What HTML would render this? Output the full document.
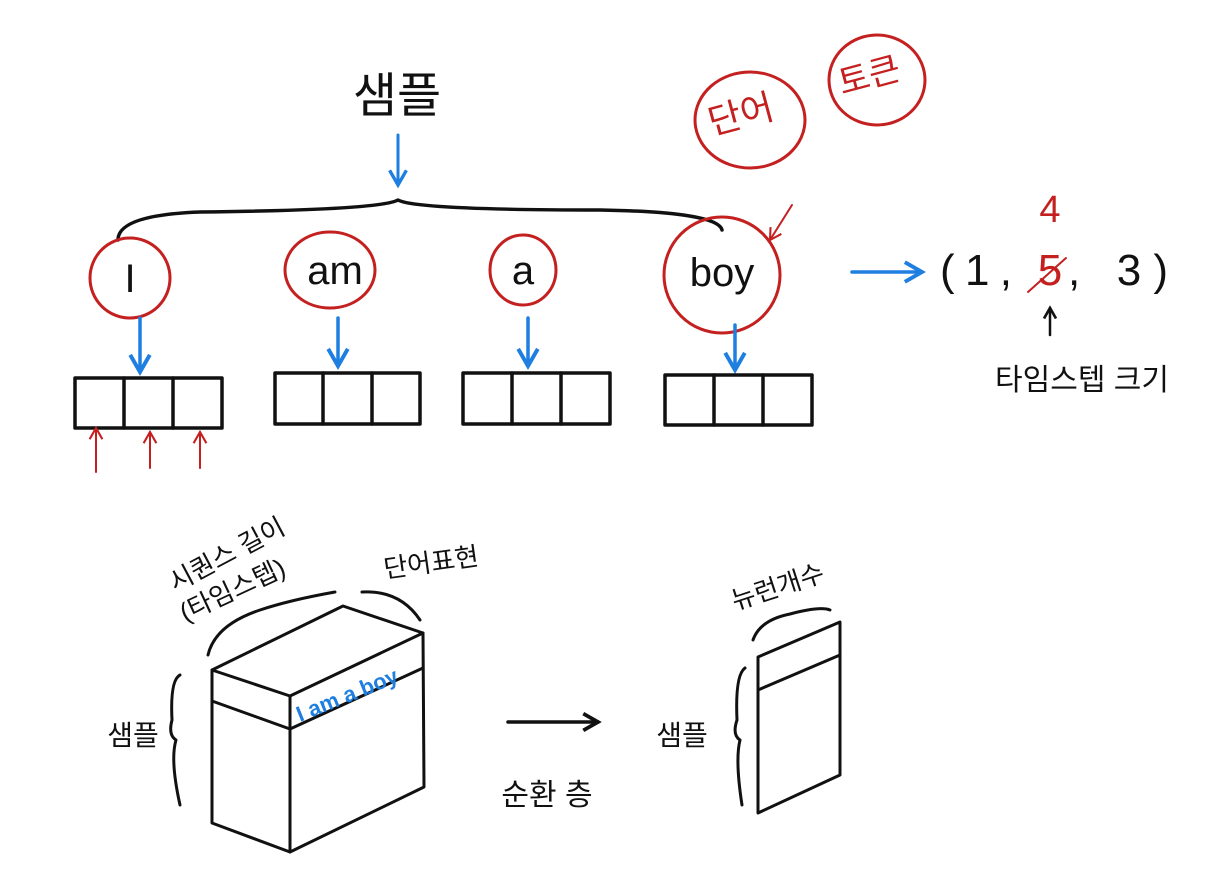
<!DOCTYPE html>
<html><head><meta charset="utf-8"><style>
html,body{margin:0;padding:0;background:#fff;}
svg{display:block;}
text{font-family:"Liberation Sans","Noto Sans CJK KR","NanumGothic",sans-serif;}
</style></head><body>
<svg width="1224" height="878" viewBox="0 0 1224 878" xmlns="http://www.w3.org/2000/svg">
<defs>
<marker id="ab" viewBox="0 0 10 10" refX="8" refY="5" markerWidth="7" markerHeight="7" orient="auto"><path d="M1,1 L8,5 L1,9" fill="none" stroke="#1e7fe0" stroke-width="1.6"/></marker>
<marker id="ar" viewBox="0 0 10 10" refX="8" refY="5" markerWidth="8" markerHeight="8" orient="auto"><path d="M1,1 L8,5 L1,9" fill="none" stroke="#c42020" stroke-width="1.3"/></marker>
<marker id="ak" viewBox="0 0 10 10" refX="8" refY="5" markerWidth="6" markerHeight="6" orient="auto"><path d="M1,1 L8,5 L1,9" fill="none" stroke="#111" stroke-width="1.8"/></marker>
</defs>
<g fill="none" stroke-linecap="round" stroke-linejoin="round">
<line x1="398" y1="135" x2="398" y2="185" stroke="#1e7fe0" stroke-width="3" marker-end="url(#ab)"/>
<path d="M118,240 Q118,215 200,212 Q380,210 398,200 Q416,210 600,210 Q718,212 722,230" stroke="#111" stroke-width="3.5"/>
<g stroke="#c42020" stroke-width="3">
<circle cx="130" cy="278" r="40"/>
<ellipse cx="330" cy="270" rx="45" ry="38"/>
<ellipse cx="523" cy="270" rx="33" ry="35"/>
<circle cx="722" cy="275" r="58"/>
<ellipse cx="750" cy="120" rx="55" ry="48"/>
<ellipse cx="877" cy="80" rx="48" ry="45"/>
</g>
<line x1="792" y1="205" x2="770" y2="240" stroke="#c42020" stroke-width="2" marker-end="url(#ar)"/>
<g stroke="#1e7fe0" stroke-width="3.5">
<line x1="140" y1="318" x2="140" y2="372" marker-end="url(#ab)"/>
<line x1="338" y1="318" x2="338" y2="366" marker-end="url(#ab)"/>
<line x1="528" y1="318" x2="528" y2="366" marker-end="url(#ab)"/>
<line x1="735" y1="325" x2="735" y2="370" marker-end="url(#ab)"/>
<line x1="852" y1="272" x2="922" y2="272" marker-end="url(#ab)"/>
</g>
<g stroke="#111" stroke-width="3.5">
<rect x="75" y="378" width="147" height="50"/><line x1="124" y1="378" x2="124" y2="428"/><line x1="173" y1="378" x2="173" y2="428"/>
<rect x="275" y="373" width="145" height="51"/><line x1="323" y1="373" x2="323" y2="424"/><line x1="372" y1="373" x2="372" y2="424"/>
<rect x="463" y="373" width="147" height="51"/><line x1="512" y1="373" x2="512" y2="424"/><line x1="561" y1="373" x2="561" y2="424"/>
<rect x="665" y="375" width="147" height="50"/><line x1="714" y1="375" x2="714" y2="425"/><line x1="763" y1="375" x2="763" y2="425"/>
</g>
<g stroke="#c42020" stroke-width="2">
<line x1="96" y1="472" x2="96" y2="428" marker-end="url(#ar)"/>
<line x1="150" y1="468" x2="150" y2="432" marker-end="url(#ar)"/>
<line x1="200" y1="468" x2="200" y2="432" marker-end="url(#ar)"/>
<line x1="1028" y1="292" x2="1066" y2="258"/>
</g>
<line x1="1050" y1="335" x2="1050" y2="308" stroke="#111" stroke-width="2.5" marker-end="url(#ak)"/>
<g stroke="#111" stroke-width="3">
<path d="M212,670 L343,606 L423,633 L290,696 Z"/>
<path d="M212,670 L212,823 L290,852 L290,696"/>
<path d="M423,633 L424,787 L290,852"/>
<path d="M212,701 L290,729 L423,668"/>
<path d="M180,675 Q170,680 172,720 Q168,735 176,740 Q170,760 180,805"/>
<path d="M208,655 Q215,625 260,610 Q290,600 335,592"/>
<path d="M362,592 Q400,590 420,620"/>
<line x1="508" y1="722" x2="598" y2="722" stroke-width="3.5" marker-end="url(#ak)"/>
<path d="M758,657 L840,622 L840,775 L758,813 Z"/>
<path d="M758,690 L840,655"/>
<path d="M745,668 Q735,675 737,720 Q732,735 740,740 Q735,760 742,805"/>
<path d="M753,640 Q760,620 790,614 Q820,606 830,610"/>
</g>
</g>
<g fill="#111">
<text x="397" y="112" font-size="48" text-anchor="middle">샘플</text>
<text x="130" y="292" font-size="40" text-anchor="middle">I</text>
<text x="335" y="284" font-size="40" text-anchor="middle">am</text>
<text x="523" y="284" font-size="40" text-anchor="middle">a</text>
<text x="722" y="286" font-size="40" text-anchor="middle">boy</text>
<text x="940" y="285" font-size="44" textLength="72">(1,</text>
<text x="1068" y="285" font-size="44" textLength="100">, 3)</text>
<text x="1082" y="390" font-size="30" text-anchor="middle">타임스텝 크기</text>
<text x="133" y="745" font-size="28" text-anchor="middle">샘플</text>
<text x="682" y="745" font-size="28" text-anchor="middle">샘플</text>
<text x="547" y="805" font-size="30" text-anchor="middle">순환 층</text>
<text transform="translate(175,592) rotate(-28)" font-size="26">시퀀스 길이</text>
<text transform="translate(185,622) rotate(-25)" font-size="26">(타임스텝)</text>
<text transform="translate(385,578) rotate(-8)" font-size="26">단어표현</text>
<text transform="translate(735,610) rotate(-18)" font-size="26">뉴런개수</text>
</g>
<g fill="#c42020">
<text x="1050" y="285" font-size="44" text-anchor="middle">5</text>
<text x="1050" y="222" font-size="38" text-anchor="middle">4</text>
<text transform="translate(712,135) rotate(-15)" font-size="36">단어</text>
<text transform="translate(842,95) rotate(-15)" font-size="34">토큰</text>
</g>
<text transform="translate(300,722) rotate(-22)" font-size="22" fill="#1e7fe0" font-weight="bold">I am a boy</text>
</svg>
</body></html>
